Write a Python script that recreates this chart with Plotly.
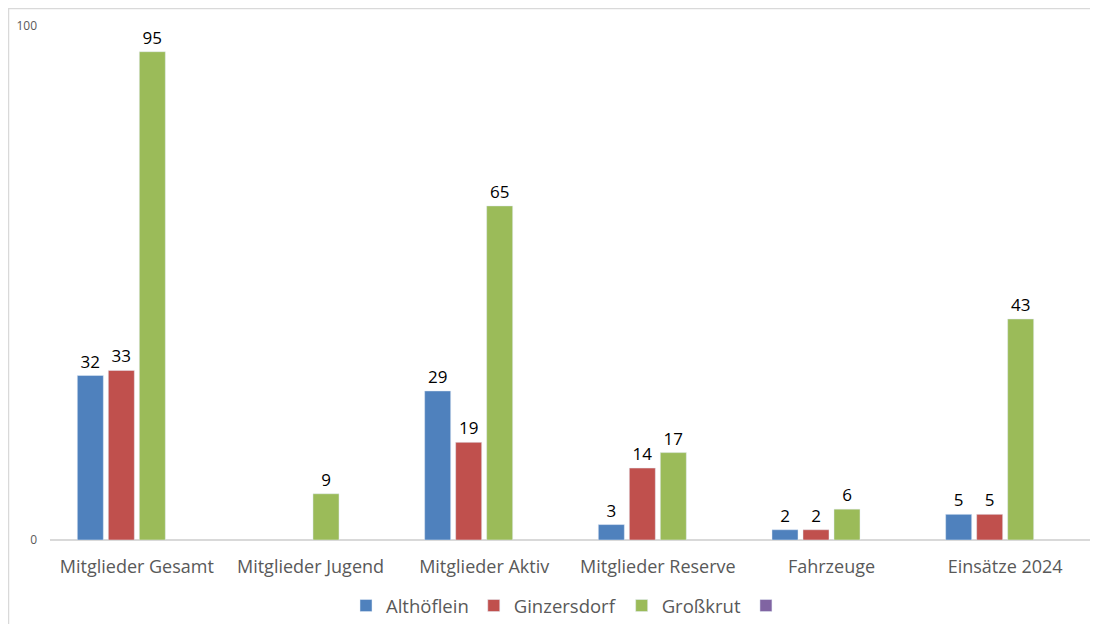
import plotly.graph_objects as go

categories = ["Mitglieder Gesamt", "Mitglieder Jugend", "Mitglieder Aktiv",
              "Mitglieder Reserve", "Fahrzeuge", "Einsätze 2024"]
althoeflein = [32, None, 29, 3, 2, 5]
ginzersdorf = [33, None, 19, 14, 2, 5]
grosskrut = [95, 9, 65, 17, 6, 43]
leer = [None, None, None, None, None, None]

series = [
    ("Althöflein", althoeflein, "#4F81BD"),
    ("Ginzersdorf", ginzersdorf, "#C0504D"),
    ("Großkrut", grosskrut, "#9BBB59"),
    (" ", leer, "#8064A2"),
]

# page body adds an 8px offset; figure sized to fill the rest of the window
W, H = 1090, 616
L, R, T, B = 42, 6, 18, 84
pw, ph = W - L - R, H - T - B

fig = go.Figure()
for name, vals, col in series:
    fig.add_trace(go.Bar(
        x=categories, y=vals, name=name, marker_color=col,
        text=[("" if v is None else str(v)) for v in vals],
        textposition="outside", cliponaxis=False,
        textfont=dict(color="#000000", size=17, family="Open Sans"),
        showlegend=True,
    ))

fig.update_layout(
    width=W, height=H,
    margin=dict(l=L, r=R, t=T, b=B, pad=0, autoexpand=False),
    paper_bgcolor="white", plot_bgcolor="white",
    barmode="group", bargap=0.286, bargroupgap=0.16,
    font=dict(family="Open Sans", color="#595959"),
    xaxis=dict(showgrid=False, showline=False, ticks="", automargin=False,
               tickfont=dict(size=18, color="#595959"), ticklabelstandoff=14),
    yaxis=dict(range=[0, 100], dtick=100, showgrid=True, gridcolor="#D9D9D9",
               gridwidth=1.5, zeroline=True, zerolinecolor="#D9D9D9",
               zerolinewidth=1.5, showline=False, ticks="", automargin=False,
               tickfont=dict(size=12, color="#595959"), ticklabelstandoff=12),
    legend=dict(orientation="h", x=0.5, xanchor="center", y=-(579 - T - ph) / ph,
                yanchor="top", font=dict(size=18.5, color="#595959"),
                itemwidth=30, traceorder="normal", tracegroupgap=0),
    shapes=[dict(type="rect", xref="paper", yref="paper",
                 x0=(0.5 - L) / pw, x1=(W + 20 - L) / pw,
                 y0=-(H + 20 - T - ph) / ph, y1=(T + ph - 0.5) / ph,
                 line=dict(color="#D9D9D9", width=1.5), layer="below")],
)
fig.write_html("out.html")
